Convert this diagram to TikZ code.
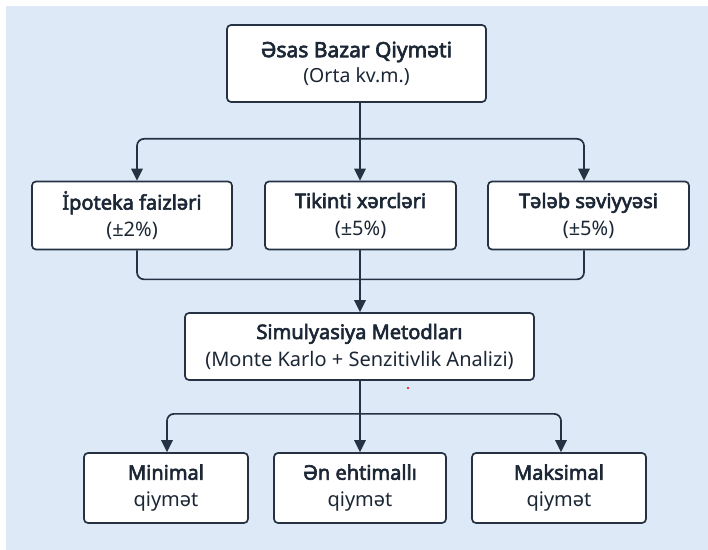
\documentclass[tikz,border=0pt]{standalone}
\usepackage{fontspec}
\setmainfont{Noto Sans}[AutoFakeBold=3]
\usetikzlibrary{arrows.meta,calc}
\definecolor{bgblue}{HTML}{DDE9F6}
\definecolor{ink}{HTML}{1C2736}
\definecolor{edge}{HTML}{243244}
\tikzset{
  card/.style={draw=edge, line width=1.7bp, fill=white, rounded corners=4bp,
    align=center, text=ink, inner sep=0pt,
    font=\fontsize{20bp}{27bp}\selectfont},
  link/.style={draw=edge, line width=1.7bp, rounded corners=7bp},
  flow/.style={link, -{Triangle[width=11.5bp,length=12bp]}}
}
\begin{document}
\begin{tikzpicture}[x=1bp,y=-1bp]
  \useasboundingbox (0,0) rectangle (708,550);
  \fill[white] (0,0) rectangle (708,550);
  \fill[bgblue] (6,6) rectangle (708,550);

  % top level
  \node[card, minimum width=259bp, minimum height=77bp,
        font=\fontsize{19.5bp}{25bp}\selectfont] (base) at (356.5,63.5)
    {{\fontsize{21bp}{25bp}\selectfont\textbf{Əsas Bazar Qiyməti}}\\(Orta kv.m.)};

  % factors
  \node[card, minimum width=200bp, minimum height=68bp] (f1) at (132,215.5)
    {\textbf{İpoteka faizləri}\\(±2\%)};
  \node[card, minimum width=191bp, minimum height=68bp] (f2) at (360.5,215.5)
    {\textbf{Tikinti xərcləri}\\(±5\%)};
  \node[card, minimum width=201bp, minimum height=68bp] (f3) at (588.5,215.5)
    {\textbf{Tələb səviyyəsi}\\(±5\%)};

  % simulation
  \node[card, minimum width=349bp, minimum height=67bp] (sim) at (359.5,346.5)
    {\textbf{Simulyasiya Metodları}\\(Monte Karlo + Senzitivlik Analizi)};

  % outcomes
  \node[card, minimum width=164bp, minimum height=70bp] (o1) at (166,488)
    {\textbf{Minimal}\\qiymət};
  \node[card, minimum width=172bp, minimum height=70bp] (o2) at (360,488)
    {\textbf{Ən ehtimallı}\\qiymət};
  \node[card, minimum width=174bp, minimum height=70bp] (o3) at (559,488)
    {\textbf{Maksimal}\\qiymət};

  % branch from the base price to the three factors
  \coordinate (j1) at ($(base.south -| sim.north)+(0.5,36)$);
  \draw[link] (base.south -| j1) -- (j1);
  \draw[flow] (j1) -| ([xshift=5bp]f1.north);
  \draw[flow] (j1) -| ([xshift=-4.5bp]f3.north);
  \draw[flow] (j1) -- (j1 |- f2.north);

  % factors merge into the simulation
  \coordinate (j2) at ($(f2.south)+(-0.5,29)$);
  \draw[link] ([xshift=5bp]f1.south) |- (j2);
  \draw[link] ([xshift=-4.5bp]f3.south) |- (j2);
  \draw[flow] (f2.south -| j2) -- (j2 |- sim.north);

  % simulation to the three outcomes
  \coordinate (j3) at ($(sim.south)+(0.5,33)$);
  \draw[link] (sim.south -| j3) -- (j3);
  \draw[flow] (j3) -| ([xshift=1bp]o1.north);
  \draw[flow] (j3) -| ([xshift=2bp]o3.north);
  \draw[flow] (j3) -- (j3 |- o2.north);

  \fill[red!85!black] (408,388) circle (1.2bp);
\end{tikzpicture}
\end{document}
